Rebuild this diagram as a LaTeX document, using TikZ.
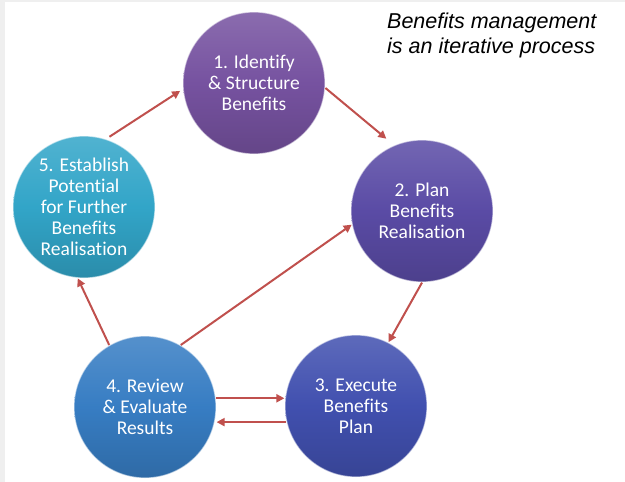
\documentclass[tikz,border=0pt]{standalone}
\usepackage{fontspec}
\setmainfont{Carlito}[Ligatures=CommonOff]
\newfontfamily\titlefont{Liberation Sans}
\usetikzlibrary{arrows.meta}
\definecolor{arrred}{HTML}{C0504D}
\definecolor{stripgray}{HTML}{EFEFEF}
\tikzset{
  ball/.style={circle, minimum size=142pt, inner sep=0pt, align=center,
    text=white, font=\fontsize{19.5}{21}\selectfont,
    draw=white, draw opacity=0.55, line width=1.2pt},
  ballA/.style={ball, top color=#1!85!white, bottom color=#1!85!black, middle color=#1},
  arr/.style={draw=arrred, line width=2pt, -{Triangle[length=8pt,width=8pt]}}
}
\definecolor{cone}{HTML}{7652A0}
\definecolor{ctwo}{HTML}{5A4BA5}
\definecolor{cthree}{HTML}{4150AF}
\definecolor{cfour}{HTML}{377DC3}
\definecolor{cfive}{HTML}{32A5C8}
\begin{document}
\begin{tikzpicture}[x=1pt,y=-1pt]
\useasboundingbox (0,0) rectangle (625,482);
\fill[white] (0,0) rectangle (625,482);
\fill[stripgray] (0,0) rectangle (625,2);
\fill[stripgray] (0,0) rectangle (5,482);

\node[ballA=cone] (n1) at (254,83) {1. Identify\\\& Structure\\Benefits};
\node[ballA=ctwo] (n2) at (422,211) {2. Plan\\Benefits\\Realisation};
\node[ballA=cthree] (n3) at (356,406) {3. Execute\\Benefits\\Plan};
\node[ballA=cfour] (n4) at (145,407) {4. Review\\\& Evaluate\\Results};
\node[ballA=cfive] (n5) at (84,207) {5. Establish\\Potential\\for Further\\Benefits\\Realisation};

\node[anchor=north west, inner sep=0pt, align=left,
  font=\titlefont\itshape\fontsize{21.5}{24.5}\selectfont] (title) at (387,13)
  {Benefits management\\is an iterative process};

\draw[arr, shorten >=10pt] (n1.-4) -- (n2.113);
\draw[arr] (n2.-90) -- (n3.63);
\draw[arr] (n4.7) -- (n4.7 -| n3.west);
\draw[arr] (n3.193) -- (n3.193 -| n4.east);
\draw[arr] (n4.60) -- (n2.191);
\draw[arr] (n4.120) -- (n5.-95);
\draw[arr, shorten <=4pt, shorten >=3pt] (n5.72) -- (n1.185);
\end{tikzpicture}
\end{document}
